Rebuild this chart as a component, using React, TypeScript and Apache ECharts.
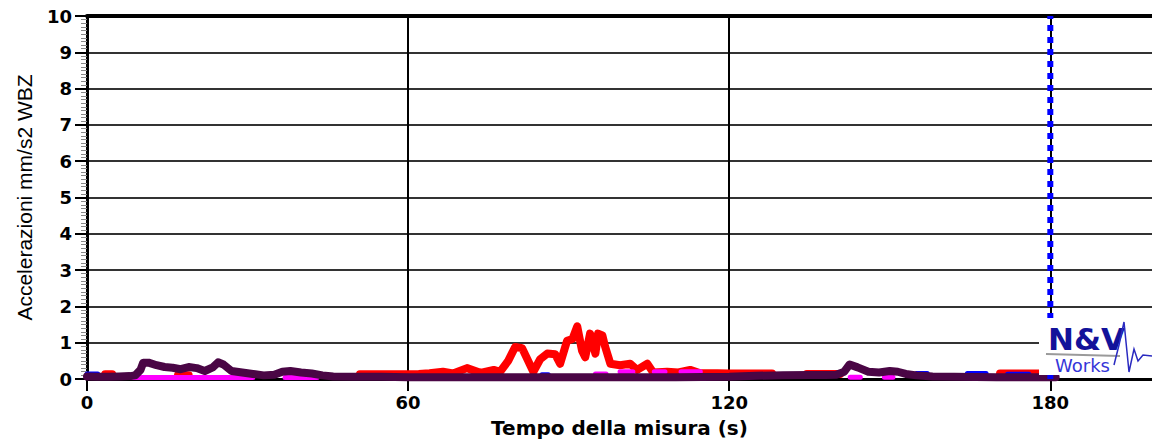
import React, { useEffect, useRef } from "react";
import * as echarts from "echarts";

// ---- data (time in s, acceleration in mm/s2) ----
const yTickValues = [0, 1, 2, 3, 4, 5, 6, 7, 8, 9, 10];
const xTickValues = [0, 60, 120, 180];

const purpleT = [0, 2, 4, 6, 8, 9, 10, 10.5, 11.5, 13, 14.5, 16, 17.5, 19, 20.5, 22, 23.5, 24.5, 25.5, 27, 29, 31, 33, 35, 36.5, 38, 40, 42, 44, 46, 50, 55, 60, 70, 80, 90, 100, 110, 120, 125, 130, 135, 138, 140, 141.5, 142.5, 144, 146, 148, 150, 151.5, 153, 155, 158, 162, 170, 175, 181];
const purpleV = [0.07, 0.06, 0.06, 0.07, 0.08, 0.1, 0.25, 0.45, 0.45, 0.38, 0.33, 0.31, 0.27, 0.33, 0.3, 0.22, 0.32, 0.46, 0.4, 0.22, 0.18, 0.14, 0.1, 0.12, 0.2, 0.22, 0.18, 0.15, 0.1, 0.07, 0.06, 0.06, 0.05, 0.05, 0.05, 0.05, 0.05, 0.05, 0.06, 0.09, 0.1, 0.11, 0.11, 0.12, 0.2, 0.4, 0.32, 0.2, 0.18, 0.22, 0.2, 0.14, 0.1, 0.07, 0.06, 0.05, 0.05, 0.05];

const redT = [3.4, 4.7, 5, 17, 19, 20, 51, 54, 57, 60, 62, 64, 66.5, 68.4, 71, 73.5, 76, 77.2, 78.7, 80, 81.3, 83.4, 84.7, 86, 87.5, 88.4, 89.7, 90.7, 91.6, 92.5, 93.1, 94, 95, 95.5, 96.3, 96.8, 97.8, 99.6, 101.5, 102.8, 104.7, 105.8, 108.4, 110.5, 112.7, 114.6, 117.8, 120, 124, 128, 129, 134.5, 140.7, 141, 170.6, 178, 179];
const redV = [0.13, 0.13, null, 0.1, 0.1, null, 0.13, 0.13, 0.13, 0.13, 0.14, 0.16, 0.2, 0.15, 0.3, 0.17, 0.25, 0.2, 0.5, 0.88, 0.85, 0.2, 0.55, 0.7, 0.68, 0.42, 1.05, 1.1, 1.45, 0.78, 0.6, 1.25, 0.7, 1.25, 1.2, 0.9, 0.42, 0.38, 0.42, 0.25, 0.42, 0.18, 0.2, 0.18, 0.25, 0.16, 0.16, 0.15, 0.15, 0.15, null, 0.14, 0.14, null, 0.15, 0.15, 0.17];

const magentaT = [8.6, 31, 32, 37, 43, 44, 95, 97, 98, 99.6, 102, 103, 106, 108, 109, 111, 114.6, 115, 142.6, 144.5, 145, 149, 150.6];
const magentaV = [0.04, 0.04, null, 0.04, 0.04, null, 0.14, 0.14, null, 0.2, 0.2, null, 0.2, 0.2, null, 0.2, 0.2, null, 0.05, 0.05, null, 0.05, 0.05];

const blueT = [0, 2, 3, 85, 86.2, 87, 155, 157, 158, 164.5, 168, 169, 172, 176];
const blueV = [0.14, 0.14, null, 0.12, 0.12, null, 0.15, 0.15, null, 0.15, 0.15, null, 0.13, 0.13];

const cursorT = [180, 180];
const cursorV = [0, 10];

const pairs = (t: number[], v: (number | null)[]) =>
  t.map((x, i) => [x, v[i] === null ? "-" : v[i]]);

export default function App() {
  const ref = useRef<HTMLDivElement>(null);
  useEffect(() => {
    const chart = echarts.init(ref.current!, null, { renderer: "svg" });
    const lineSeries = (name: string, data: any[], color: string, width: number) => ({
      name,
      type: "line",
      data,
      symbol: "none",
      connectNulls: false,
      lineStyle: { color, width, join: "round", cap: "round" },
      z: 3,
    });
    chart.setOption({
      animation: false,
      backgroundColor: "#ffffff",
      grid: { left: 87, top: 16, right: 0, bottom: 64, containLabel: false },
      xAxis: [
        {
          type: "value",
          min: 0,
          max: 199,
          interval: 60,
          name: "Tempo della misura (s)",
          nameLocation: "middle",
          nameGap: 39,
          nameTextStyle: { fontFamily: "DejaVu Sans", fontWeight: "bold", fontSize: 20, color: "#000" },
          axisLine: { lineStyle: { color: "#000", width: 3 } },
          axisTick: { show: true, length: 12, customValues: xTickValues, lineStyle: { color: "#000", width: 2 } },
          axisLabel: {
            margin: 14,
            customValues: xTickValues,
            fontFamily: "DejaVu Sans",
            fontWeight: "bold",
            fontSize: 18,
            color: "#000",
            formatter: (v: number) => (xTickValues.includes(v) ? String(v) : ""),
          },
          splitLine: { show: true, showMinLine: false, lineStyle: { color: "#000", width: 2 } },
        },
        {
          type: "value",
          position: "top",
          min: 0,
          max: 199,
          axisLine: { show: true, onZero: false, lineStyle: { color: "#000", width: 4 } },
          axisTick: { show: false },
          axisLabel: { show: false },
          splitLine: { show: false },
        },
      ],
      yAxis: {
        type: "value",
        min: yTickValues[0],
        max: yTickValues[yTickValues.length - 1],
        interval: 1,
        name: "Accelerazioni mm/s2 WBZ",
        nameLocation: "middle",
        nameGap: 52,
        nameTextStyle: { fontFamily: "Liberation Sans", fontSize: 21, color: "#000" },
        axisLine: { show: true, lineStyle: { color: "#000", width: 3 } },
        axisTick: { show: true, length: 12, lineStyle: { color: "#000", width: 2 } },
        minorTick: { show: true, splitNumber: 10, length: 6, lineStyle: { color: "#888", width: 1 } },
        axisLabel: {
          margin: 15,
          fontFamily: "DejaVu Sans",
          fontWeight: "bold",
          fontSize: 18,
          color: "#000",
        },
        splitLine: { show: true, lineStyle: { color: "#333", width: 2 } },
      },
      series: [
        lineSeries("rosso", pairs(redT, redV), "#ff0000", 8),
        lineSeries("blu", pairs(blueT, blueV), "#0000ff", 5),
        lineSeries("magenta", pairs(magentaT, magentaV), "#ff00ff", 5),
        lineSeries("viola", pairs(purpleT, purpleV), "#4a0645", 8),
        {
          name: "cursore",
          type: "line",
          data: pairs(cursorT, cursorV),
          symbol: "none",
          lineStyle: { color: "#0000ff", width: 6, type: [6, 6] },
          z: 4,
        },
      ],
      graphic: [
        { type: "rect", z: 100, shape: { x: 1039, y: 318, width: 113, height: 57 }, style: { fill: "#ffffff" } },
        { type: "line", z: 101, shape: { x1: 1046, y1: 354, x2: 1120, y2: 356 }, style: { stroke: "#9a9a9a", lineWidth: 2 } },
        {
          type: "text",
          z: 102,
          style: {
            x: 1048,
            y: 323,
            text: "N&V",
            fill: "#12129a",
            fontFamily: "DejaVu Sans",
            fontWeight: "bold",
            fontSize: 31,
            verticalAlign: "top",
          },
        },
        {
          type: "text",
          z: 102,
          style: {
            x: 1055,
            y: 356,
            text: "Works",
            fill: "#3535d8",
            fontFamily: "DejaVu Sans",
            fontSize: 18,
            verticalAlign: "top",
          },
        },
        {
          type: "polyline",
          z: 102,
          shape: {
            points: [
              [1114, 365],
              [1119, 345],
              [1124, 322],
              [1129, 372],
              [1134, 349],
              [1138, 361],
              [1143, 355],
              [1152, 356],
            ],
          },
          style: { stroke: "#2a2ac0", lineWidth: 1.5, fill: "none" },
        },
      ],
    });
    return () => chart.dispose();
  }, []);
  return (
    <div
      ref={ref}
      style={{ position: "fixed", left: 0, top: 0, width: 1152, height: 443, background: "#fff" }}
    />
  );
}
